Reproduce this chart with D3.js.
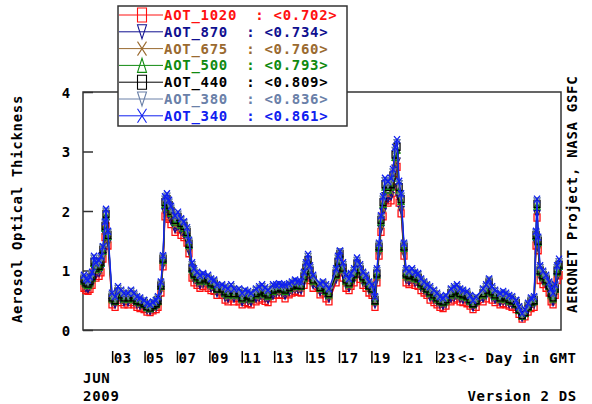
<!DOCTYPE html>
<html>
<head>
<meta charset="utf-8">
<script src="https://cdn.jsdelivr.net/npm/d3@7"></script>
<style>
  body { margin: 0; background: #fff; }
  text { font-family: "DejaVu Sans Mono", monospace; font-weight: bold; font-size: 14px; letter-spacing: 0.7px; white-space: pre; }
</style>
</head>
<body>
<svg id="aot" width="592" height="404"></svg>
<script>
// ---------- data: June 2009, day of month (GMT) ----------
const days = [1.23,1.35,1.48,1.60,1.73,1.85,1.97,2.16,2.28,2.40,2.53,2.59,2.71,
  2.96,3.15,3.33,3.52,3.70, 3.95,4.13,4.32,4.50,4.69, 4.94,5.12,5.31,5.49,5.68,5.80,
  5.98,6.11,6.23,6.35,6.48,6.60, 6.85,7.03,7.22,7.40,7.59,7.71, 7.90,8.02,8.21,8.39,8.58,
  8.89,9.07,9.26,9.44, 9.75,9.94,10.12,10.31,10.49, 10.80,10.99,11.17,11.36,11.54,
  11.85,12.04,12.22,12.41,12.59, 12.90,13.09,13.27,13.46,13.64, 13.89,14.07,14.26,14.44,14.63,
  14.81,14.93,15.06,15.18,15.37, 15.80,15.98,16.17,16.35, 16.79,16.91,17.03,17.22,17.40,
  17.59,17.71,17.90,18.08,18.27,18.45,18.64, 18.82,19.01,19.19,19.31,19.44,19.56,19.69,
  19.81,19.99,20.18,20.30,20.43,20.55,20.68,20.80, 20.98,21.11,21.29,21.48,21.66,21.85,
  22.03,22.22,22.40,22.59, 22.83,23.02,23.20,23.39,23.57, 23.88,24.07,24.25,24.44,24.62,
  24.87,25.06,25.24,25.43, 25.86,26.05,26.23,26.42,26.60, 26.91,27.10,27.28,27.47,27.65,
  27.90,28.08,28.27,28.45,28.64,28.82, 29.01,29.13,29.19,29.26,29.38,29.56,29.75,
  29.94,30.06,30.18,30.31,30.43,30.55];

const aot1020 = [0.71,0.67,0.66,0.69,0.76,0.97,0.88,0.91,0.97,1.20,1.56,1.74,1.42,
  0.43,0.39,0.51,0.47,0.43, 0.43,0.47,0.43,0.39,0.37, 0.35,0.31,0.30,0.33,0.35,0.39,
  0.63,1.07,1.91,1.96,1.87,1.78, 1.65,1.69,1.60,1.56,1.47,1.29, 0.88,0.80,0.76,0.71,0.74,
  0.71,0.67,0.66,0.59, 0.59,0.51,0.48,0.53,0.48, 0.48,0.43,0.47,0.45,0.43,
  0.48,0.51,0.53,0.49,0.47, 0.53,0.59,0.60,0.59,0.53, 0.60,0.63,0.66,0.64,0.63,
  0.76,0.88,0.99,0.84,0.71, 0.60,0.63,0.53,0.48, 0.80,0.97,1.14,0.88,0.71,
  0.67,0.74,0.80,0.94,0.86,0.76,0.71, 0.63,0.59,0.39,0.80,1.25,1.65,1.91,
  2.18,2.14,2.18,2.31,2.63,2.74,2.14,1.96, 1.25,0.80,0.77,0.80,0.76,0.74,
  0.67,0.63,0.59,0.51, 0.47,0.43,0.39,0.37,0.41, 0.48,0.51,0.53,0.48,0.47,
  0.45,0.41,0.35,0.39, 0.48,0.53,0.67,0.51,0.47, 0.43,0.45,0.43,0.41,0.39,
  0.35,0.27,0.19,0.23,0.31,0.37, 0.39,1.42,1.89,1.34,0.84,0.77,0.71,
  0.63,0.48,0.43,0.59,0.84,0.92];

const aot870 = [0.76,0.71,0.69,0.73,0.80,1.02,0.93,0.96,1.02,1.24,1.61,1.79,1.47,
  0.47,0.43,0.55,0.51,0.47, 0.47,0.51,0.47,0.43,0.41, 0.38,0.34,0.32,0.36,0.38,0.43,
  0.67,1.10,1.98,2.02,1.93,1.84, 1.70,1.75,1.66,1.61,1.52,1.33, 0.93,0.85,0.80,0.76,0.78,
  0.76,0.71,0.69,0.62, 0.62,0.55,0.53,0.58,0.53, 0.53,0.47,0.51,0.49,0.47,
  0.53,0.55,0.58,0.54,0.51, 0.58,0.62,0.64,0.62,0.58, 0.64,0.67,0.69,0.68,0.67,
  0.80,0.93,1.05,0.89,0.76, 0.64,0.67,0.58,0.53, 0.85,1.02,1.18,0.93,0.76,
  0.71,0.78,0.85,1.00,0.91,0.80,0.76, 0.67,0.62,0.43,0.85,1.29,1.70,1.98,
  2.25,2.21,2.25,2.39,2.71,2.83,2.21,2.02, 1.29,0.85,0.82,0.85,0.80,0.78,
  0.71,0.67,0.62,0.55, 0.51,0.47,0.43,0.41,0.44, 0.53,0.55,0.58,0.53,0.51,
  0.49,0.44,0.38,0.43, 0.53,0.58,0.71,0.55,0.51, 0.47,0.49,0.47,0.44,0.43,
  0.38,0.30,0.21,0.26,0.34,0.41, 0.43,1.47,1.95,1.38,0.89,0.82,0.76,
  0.67,0.53,0.47,0.62,0.89,0.98];

const aot675 = [0.79,0.74,0.73,0.76,0.84,1.07,0.98,1.00,1.07,1.28,1.66,1.85,1.52,
  0.50,0.46,0.59,0.55,0.50, 0.50,0.55,0.50,0.46,0.44, 0.41,0.36,0.35,0.38,0.41,0.46,
  0.70,1.14,2.04,2.09,2.00,1.90, 1.76,1.81,1.71,1.66,1.57,1.38, 0.98,0.88,0.84,0.79,0.82,
  0.79,0.74,0.73,0.65, 0.65,0.59,0.56,0.62,0.56, 0.56,0.50,0.55,0.53,0.50,
  0.56,0.59,0.62,0.57,0.55, 0.62,0.65,0.67,0.65,0.62, 0.67,0.70,0.73,0.71,0.70,
  0.84,0.98,1.10,0.93,0.79, 0.67,0.70,0.62,0.56, 0.88,1.07,1.22,0.98,0.79,
  0.74,0.82,0.88,1.04,0.95,0.84,0.79, 0.70,0.65,0.46,0.88,1.33,1.76,2.04,
  2.33,2.28,2.33,2.47,2.80,2.93,2.28,2.09, 1.33,0.88,0.86,0.88,0.84,0.82,
  0.74,0.70,0.65,0.59, 0.55,0.50,0.46,0.44,0.47, 0.56,0.59,0.62,0.56,0.55,
  0.53,0.47,0.41,0.46, 0.56,0.62,0.74,0.59,0.55, 0.50,0.53,0.50,0.47,0.46,
  0.41,0.32,0.23,0.27,0.36,0.44, 0.46,1.52,2.01,1.43,0.93,0.86,0.79,
  0.70,0.56,0.50,0.65,0.93,1.02];

const aot500 = [0.83,0.78,0.76,0.80,0.88,1.13,1.03,1.06,1.13,1.33,1.72,1.92,1.58,
  0.53,0.49,0.63,0.58,0.53, 0.53,0.58,0.53,0.49,0.47, 0.44,0.39,0.37,0.41,0.44,0.49,
  0.74,1.18,2.12,2.17,2.07,1.97, 1.82,1.87,1.77,1.72,1.63,1.43, 1.03,0.93,0.88,0.83,0.86,
  0.83,0.78,0.76,0.69, 0.69,0.63,0.60,0.66,0.60, 0.60,0.53,0.58,0.56,0.53,
  0.60,0.63,0.66,0.61,0.58, 0.66,0.69,0.71,0.69,0.66, 0.71,0.74,0.76,0.74,0.74,
  0.88,1.03,1.16,0.98,0.83, 0.71,0.74,0.66,0.60, 0.93,1.13,1.26,1.03,0.83,
  0.78,0.86,0.93,1.10,1.00,0.88,0.83, 0.74,0.69,0.49,0.93,1.38,1.82,2.12,
  2.41,2.36,2.41,2.56,2.91,3.03,2.36,2.17, 1.38,0.93,0.90,0.93,0.88,0.86,
  0.78,0.74,0.69,0.63, 0.58,0.53,0.49,0.47,0.50, 0.60,0.63,0.66,0.60,0.58,
  0.56,0.50,0.44,0.49, 0.60,0.66,0.78,0.63,0.58, 0.53,0.56,0.53,0.50,0.49,
  0.44,0.34,0.24,0.29,0.39,0.47, 0.49,1.58,2.09,1.48,0.98,0.90,0.83,
  0.74,0.60,0.53,0.69,0.98,1.08];

const aot440 = [0.85,0.80,0.78,0.82,0.90,1.15,1.05,1.08,1.15,1.35,1.75,1.95,1.60,
  0.55,0.50,0.65,0.60,0.55, 0.55,0.60,0.55,0.50,0.48, 0.45,0.40,0.38,0.42,0.45,0.50,
  0.75,1.20,2.15,2.20,2.10,2.00, 1.85,1.90,1.80,1.75,1.65,1.45, 1.05,0.95,0.90,0.85,0.88,
  0.85,0.80,0.78,0.70, 0.70,0.65,0.62,0.68,0.62, 0.62,0.55,0.60,0.58,0.55,
  0.62,0.65,0.68,0.63,0.60, 0.68,0.70,0.72,0.70,0.68, 0.72,0.75,0.78,0.76,0.75,
  0.90,1.05,1.18,1.00,0.85, 0.72,0.75,0.68,0.62, 0.95,1.15,1.28,1.05,0.85,
  0.80,0.88,0.95,1.12,1.02,0.90,0.85, 0.75,0.70,0.50,0.95,1.40,1.85,2.15,
  2.45,2.40,2.45,2.60,2.95,3.08,2.40,2.20, 1.40,0.95,0.92,0.95,0.90,0.88,
  0.80,0.75,0.70,0.65, 0.60,0.55,0.50,0.48,0.52, 0.62,0.65,0.68,0.62,0.60,
  0.58,0.52,0.45,0.50, 0.62,0.68,0.80,0.65,0.60, 0.55,0.58,0.55,0.52,0.50,
  0.45,0.35,0.25,0.30,0.40,0.48, 0.50,1.60,2.12,1.50,1.00,0.92,0.85,
  0.75,0.62,0.55,0.70,1.00,1.10];

const aot380 = [0.88,0.83,0.81,0.85,0.94,1.20,1.09,1.12,1.20,1.38,1.79,1.99,1.63,
  0.58,0.53,0.69,0.64,0.58, 0.58,0.64,0.58,0.53,0.51, 0.48,0.42,0.40,0.45,0.48,0.53,
  0.78,1.22,2.19,2.24,2.14,2.04, 1.89,1.94,1.84,1.79,1.68,1.48, 1.09,0.99,0.94,0.88,0.92,
  0.88,0.83,0.81,0.73, 0.73,0.69,0.66,0.72,0.66, 0.66,0.58,0.64,0.61,0.58,
  0.66,0.69,0.72,0.67,0.64, 0.72,0.73,0.75,0.73,0.72, 0.75,0.78,0.81,0.79,0.78,
  0.94,1.09,1.23,1.04,0.88, 0.75,0.78,0.72,0.66, 0.99,1.20,1.31,1.09,0.88,
  0.83,0.92,0.99,1.16,1.06,0.94,0.88, 0.78,0.73,0.53,0.99,1.43,1.89,2.19,
  2.50,2.45,2.50,2.65,3.01,3.14,2.45,2.24, 1.43,0.99,0.96,0.99,0.94,0.92,
  0.83,0.78,0.73,0.69, 0.64,0.58,0.53,0.51,0.55, 0.66,0.69,0.72,0.66,0.64,
  0.61,0.55,0.48,0.53, 0.66,0.72,0.83,0.69,0.64, 0.58,0.61,0.58,0.55,0.53,
  0.48,0.37,0.27,0.32,0.42,0.51, 0.53,1.63,2.16,1.53,1.04,0.96,0.88,
  0.78,0.66,0.58,0.73,1.04,1.14];

const aot340 = [0.92,0.86,0.84,0.89,0.97,1.24,1.13,1.17,1.24,1.40,1.82,2.03,1.66,
  0.62,0.56,0.73,0.67,0.62, 0.62,0.67,0.62,0.56,0.54, 0.50,0.45,0.43,0.47,0.50,0.56,
  0.81,1.25,2.24,2.29,2.18,2.08, 1.92,1.98,1.87,1.82,1.72,1.51, 1.13,1.03,0.97,0.92,0.95,
  0.92,0.86,0.84,0.76, 0.76,0.73,0.69,0.76,0.69, 0.69,0.62,0.67,0.65,0.62,
  0.69,0.73,0.76,0.71,0.67, 0.76,0.76,0.78,0.76,0.76, 0.78,0.81,0.84,0.82,0.81,
  0.97,1.13,1.27,1.08,0.92, 0.78,0.81,0.76,0.69, 1.03,1.24,1.33,1.13,0.92,
  0.86,0.95,1.03,1.21,1.10,0.97,0.92, 0.81,0.76,0.56,1.03,1.46,1.92,2.24,
  2.55,2.50,2.55,2.70,3.07,3.20,2.50,2.29, 1.46,1.03,0.99,1.03,0.97,0.95,
  0.86,0.81,0.76,0.73, 0.67,0.62,0.56,0.54,0.58, 0.69,0.73,0.76,0.69,0.67,
  0.65,0.58,0.50,0.56, 0.69,0.76,0.86,0.73,0.67, 0.62,0.65,0.62,0.58,0.56,
  0.50,0.39,0.28,0.34,0.45,0.54, 0.56,1.66,2.20,1.56,1.08,0.99,0.92,
  0.81,0.69,0.62,0.76,1.08,1.19];

const seriesNames   = ['AOT_1020', 'AOT_870', 'AOT_675', 'AOT_500', 'AOT_440', 'AOT_380', 'AOT_340'];
const seriesMeans   = ['0.702', '0.734', '0.760', '0.793', '0.809', '0.836', '0.861'];
const seriesValues  = [aot1020, aot870, aot675, aot500, aot440, aot380, aot340];
const seriesColors  = ['#ff1010', '#101090', '#9a6a30', '#108a10', '#000000', '#6a80a8', '#1020f0'];
const seriesSymbols = ['square', 'tridown', 'cross', 'triup', 'square', 'tridown', 'cross'];

const yTicks = [0, 1, 2, 3, 4];
const dayTicks = [3, 5, 7, 9, 11, 13, 15, 17, 19, 21, 23];
const dayDomain = [1.17, 30.67];

// ---------- layout ----------
const svg = d3.select('svg#aot');
const plot = { left: 83, right: 561, top: 92, bottom: 330 };

const x = d3.scaleLinear().domain(dayDomain).range([plot.left, plot.right]);
const y = d3.scaleLinear().domain([0, 4]).range([plot.bottom, plot.top]);

// symbol outline centred on (cx, cy), w wide and h tall
function symbolPath(kind, cx, cy, w, h) {
  const p = d3.path(), hw = w / 2, hh = h / 2;
  if (kind === 'square') {
    p.rect(cx - hw, cy - hh, w, h);
  } else if (kind === 'tridown') {
    p.moveTo(cx - hw, cy - hh); p.lineTo(cx + hw, cy - hh); p.lineTo(cx, cy + hh); p.closePath();
  } else if (kind === 'triup') {
    p.moveTo(cx - hw, cy + hh); p.lineTo(cx + hw, cy + hh); p.lineTo(cx, cy - hh); p.closePath();
  } else {
    p.moveTo(cx - hw, cy - hh); p.lineTo(cx + hw, cy + hh);
    p.moveTo(cx + hw, cy - hh); p.lineTo(cx - hw, cy + hh);
  }
  return p.toString();
}

//---------------------frame----------
svg.append('rect')
    .attr('x', plot.left).attr('y', plot.top)
    .attr('width', plot.right - plot.left).attr('height', plot.bottom - plot.top)
    .attr('fill', 'none').attr('stroke', '#333').attr('stroke-width', 1.5);

//---------------------y axis----------
const yAxis = d3.axisLeft(y).tickValues(yTicks).tickSize(-10).tickPadding(12).tickFormat(d3.format('d'));
svg.append('g')
    .attr('transform', `translate(${plot.left},0)`)
    .call(yAxis)
    .call(g => g.select('.domain').remove())
    .call(g => g.selectAll('.tick line').attr('stroke', '#333').attr('stroke-width', 1.5))
    .call(g => g.selectAll('.tick text')
        .attr('fill', '#000').attr('dy', '0.36em')
        .style('font-family', '"DejaVu Sans Mono", monospace').style('font-size', '14px'));

svg.append('text')
    .attr('transform', 'translate(22,' + ((plot.top + plot.bottom) / 2 - 2) + ') rotate(-90)')
    .attr('text-anchor', 'middle')
    .text('Aerosol Optical Thickness');

svg.append('text')
    .attr('transform', 'translate(577,313) rotate(-90)')
    .attr('text-anchor', 'start')
    .text('AERONET Project, NASA GSFC');

//---------------------x axis (day labels)----------
const dayG = svg.append('g').selectAll('g')
    .data(dayTicks)
  .enter().append('g')
    .attr('transform', d => `translate(${x(d)},0)`);
dayG.append('line')
    .attr('y1', 351).attr('y2', 363)
    .attr('stroke', '#000').attr('stroke-width', 1.5);
dayG.append('text')
    .attr('x', 1).attr('y', 363)
    .text(d => d3.format('02d')(d));

svg.append('text').attr('x', 458).attr('y', 363).text('<- Day in GMT');
svg.append('text').attr('x', 83).attr('y', 383).text('JUN');
svg.append('text').attr('x', 83).attr('y', 401).text('2009');
svg.append('text').attr('x', 577).attr('y', 401).attr('text-anchor', 'end').text('Version 2 DS');

//---------------------series----------
const line = d3.line()
    .x(d => x(d[0]))
    .y(d => y(d[1]));

seriesValues.forEach((vals, i) => {
  const pts = days.map((t, j) => [t, vals[j]]);
  const g = svg.append('g').attr('class', 'series');
  g.append('path')
      .attr('d', line(pts))
      .attr('fill', 'none')
      .attr('stroke', seriesColors[i])
      .attr('stroke-width', 1.3);
  g.selectAll('path.mark')
      .data(pts)
    .enter().append('path')
      .attr('class', 'mark')
      .attr('d', d => symbolPath(seriesSymbols[i], x(d[0]), y(d[1]), 6, 7))
      .attr('fill', 'none')
      .attr('stroke', seriesColors[i])
      .attr('stroke-width', 1.3);
});

//---------------------legend----------
const legend = svg.append('g');
legend.append('rect')
    .attr('x', 118).attr('y', 6).attr('width', 229).attr('height', 120)
    .attr('fill', '#fff').attr('stroke', '#333').attr('stroke-width', 1.5);

const rows = legend.selectAll('g.row')
    .data(seriesNames)
  .enter().append('g')
    .attr('class', 'row')
    .attr('transform', (d, i) => `translate(0,${15 + i * 16.8})`);
rows.append('line')
    .attr('x1', 119).attr('x2', 163)
    .attr('stroke', (d, i) => seriesColors[i]).attr('stroke-width', 1);
rows.append('path')
    .attr('d', (d, i) => symbolPath(seriesSymbols[i], 142, 0, 9, 14))
    .attr('fill', 'none')
    .attr('stroke', (d, i) => seriesColors[i]).attr('stroke-width', 1.1);
rows.append('text')
    .attr('x', 164).attr('y', 5)
    .attr('fill', (d, i) => seriesColors[i])
    .text((d, i) => d + '  : <' + seriesMeans[i] + '>');
</script>
</body>
</html>
